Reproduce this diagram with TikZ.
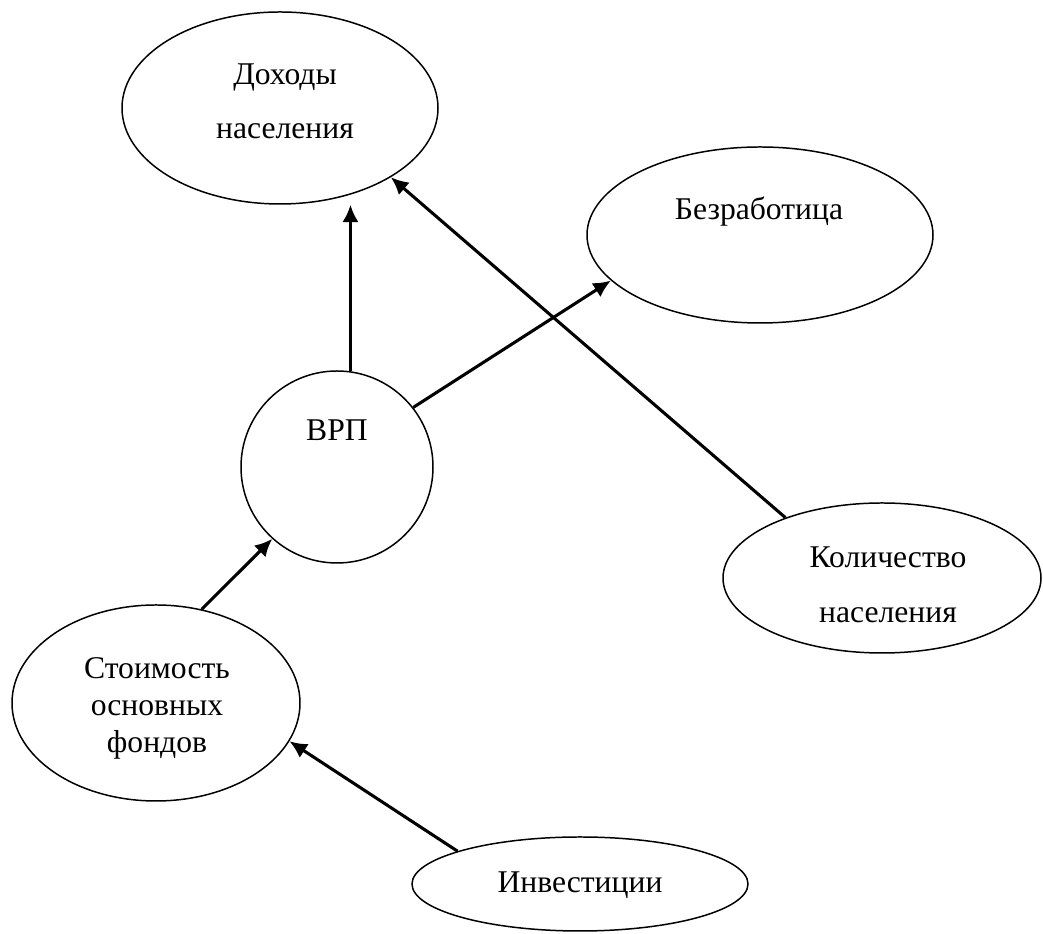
\documentclass[tikz,border=0pt]{standalone}
\usepackage{fontspec}
\setmainfont{Liberation Serif}
\usetikzlibrary{arrows.meta,shapes.geometric}
\tikzset{>={Latex[length=3.5mm,width=3.3mm]}}
\tikzset{
  oval/.style={draw,ellipse,line width=0.85pt,inner sep=0pt},
  lbl/.style={font=\fontsize{18}{21}\selectfont,align=center},
  link/.style={->,line width=1.75pt}
}

\begin{document}
\begin{tikzpicture}
            \useasboundingbox (0,0) rectangle (20.86,18.68);
            % ellipses
            \node[oval,minimum width=6.32cm,minimum height=3.84cm] (inc) at (5.60,16.52){};
            \node[oval,minimum width=6.92cm,minimum height=3.52cm] (unemp) at (15.20,13.98){};
            \node[oval,minimum width=3.84cm,minimum height=3.84cm] (grp) at (6.74,9.34){};
            \node[oval,minimum width=6.36cm,minimum height=3.00cm] (pop) at (17.64,7.12){};
            \node[oval,minimum width=5.76cm,minimum height=3.92cm] (funds) at (3.12,4.62){};
            \node[oval,minimum width=6.72cm,minimum height=1.88cm] (inv) at (11.60,1.00){};
            % texts
            \node[lbl] (incT) at (5.70,16.65){Доходы\\[10pt]населения};
            \node[lbl] (unempT) at (15.18,14.44){Безработица};
            \node[lbl] (grpT) at (6.74,10.08){ВРП};
            \node[lbl] (popT) at (17.76,6.98){Количество\\[10pt]населения};
            \node[lbl] (fundsT) at (3.14,4.51){Стоимость\\основных\\фондов};
            \node[lbl] (invT) at (11.60,0.98){Инвестиции};
            % links
            \draw[link] (grp.82) -- (grp.82 |- inc.south);
            \draw[link] (grp.38) -- (unemp.197);
            \draw[link] (pop.148) -- (inc.-32);
            \draw[link] (funds.64) -- (grp.228);
            \draw[link] (inv.165) -- (funds.-16);
        \end{tikzpicture}
\end{document}
